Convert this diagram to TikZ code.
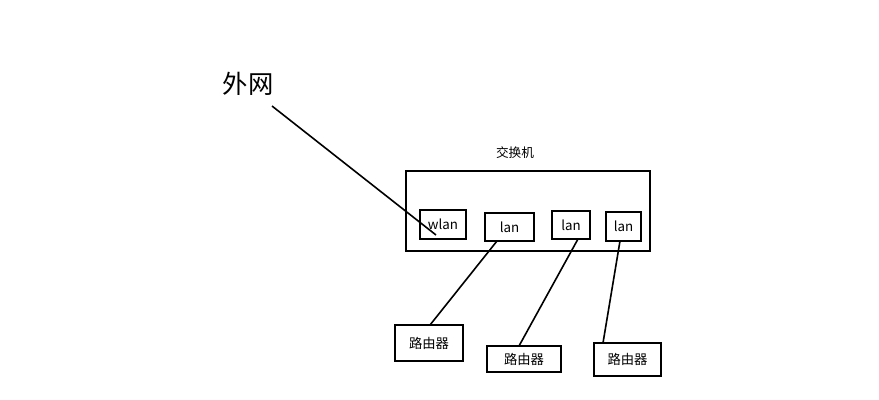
\documentclass[tikz,border=0pt]{standalone}
\usepackage{fontspec}
\setmainfont{Noto Sans CJK SC}
\begin{document}
\begin{tikzpicture}[x=0.75pt,y=-0.75pt,
  bx/.style={draw,line width=1.5pt,inner sep=0pt,font=\fontsize{10}{12}\selectfont},
  ln/.style={line width=1.2pt}]
\useasboundingbox (0,0) rectangle (879,400);
\fill[white] (0,0) rectangle (879,400);
\node[bx,minimum width=183pt,minimum height=60pt] (sw) at (528,211) {};
\node[font=\fontsize{9.5}{11}\selectfont] (swl) at (515,153) {交换机};
\node[bx,minimum width=34.5pt,minimum height=22pt] (wlan) at (443,224.5) {wlan};
\node[bx,minimum width=37pt,minimum height=21pt] (l1) at (509.5,227) {lan};
\node[bx,minimum width=28.5pt,minimum height=21pt] (l2) at (571,225) {lan};
\node[bx,minimum width=26pt,minimum height=22pt] (l3) at (623.5,226.5) {lan};
\node[bx,minimum width=51pt,minimum height=27pt] (r1) at (429,343) {路由器};
\node[bx,minimum width=55.5pt,minimum height=19.5pt] (r2) at (524,359) {路由器};
\node[bx,minimum width=50pt,minimum height=25pt] (r3) at (627.5,359.5) {路由器};
\node[font=\fontsize{19}{22}\selectfont] (ext) at (248,84) {外网};
\coordinate (wend) at (436,235);
\draw[ln] (272,106) -- (wend);
\draw[ln] (497,241) -- (430,325);
\draw[ln] (578,239) -- (519,346);
\draw[ln] (620,241) -- (603,343);
\end{tikzpicture}
\end{document}
